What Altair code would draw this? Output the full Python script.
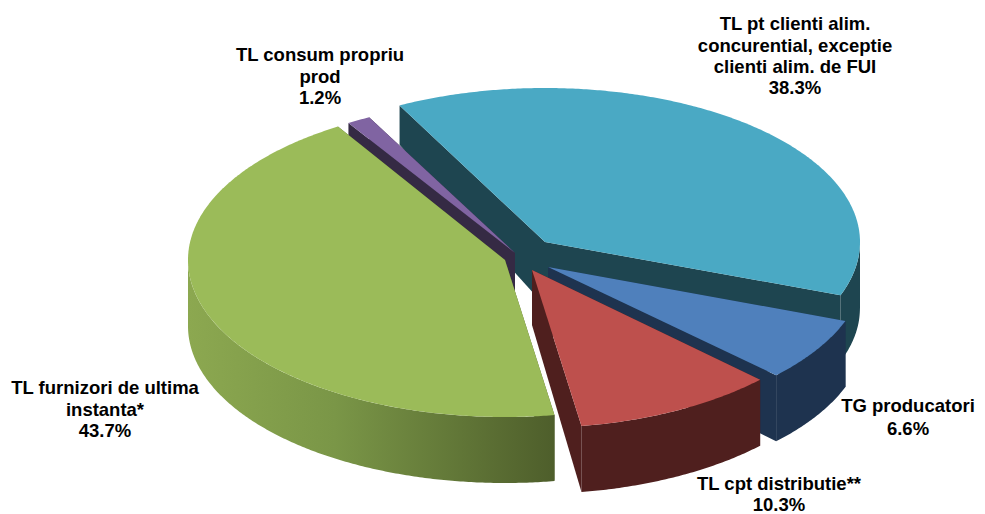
import numpy as np
import pandas as pd
import altair as alt

# --- chart values ---
SLICE_NAMES = ["teal", "blue", "red", "green", "purple"]
SHARES = [38.3, 6.6, 10.3, 43.7, 1.2]
TOP_COLORS = ["#4AA9C4", "#4F80BC", "#BE504D", "#9BBB59", "#8064A2"]
WALL_COLORS = ["#1E4550", "#1E334F", "#4F1F1E", "#4E5E2B", "#352A44"]
APEX_X = [545, 548, 532, 505, 515]
APEX_Y = [242, 267, 270, 260, 253]
RADIUS_X = [315, 317, 317, 317, 316]
RADIUS_Y = [154, 156, 158, 157, 153]
APEX_DEPTH = [64, 60, 55, 64, 60]
DRAW_ORDER = [0, 4, 1, 2, 3]
FIRST_ANGLE = -27.5

LABEL_LINES = [
    "TL pt clienti alim.", "concurential, exceptie", "clienti alim. de FUI", "38.3%",
    "TL consum propriu", "prod", "1.2%",
    "TG producatori", "6.6%",
    "TL cpt distributie**", "10.3%",
    "TL furnizori de ultima", "instanta*", "43.7%",
]
LABEL_X = [795, 795, 795, 795, 320, 320, 320, 908, 908, 779, 779, 105, 105, 105]
LABEL_Y = [24, 46, 67, 88, 55, 77, 98, 406, 429, 484, 505, 388, 410, 431]

XS = alt.Scale(domain=[8, 977], nice=False, zero=False)
YS = alt.Scale(domain=[518, 8], nice=False, zero=False)


def depth_at(y):
    return np.clip(39 + 0.18 * (np.asarray(y, dtype=float) - 103), 39, 66)


def polygon(xs, ys, fill):
    df = pd.DataFrame({"x": xs, "y": ys, "i": np.arange(len(xs))})
    return (
        alt.Chart(df)
        .mark_line(filled=True, fill=fill, strokeWidth=0, interpolate="linear")
        .encode(
            x=alt.X("x:Q", scale=XS, axis=None),
            y=alt.Y("y:Q", scale=YS, axis=None),
            order=alt.Order("i:Q"),
        )
    )


unit = 360.0 / sum(SHARES)
starts = FIRST_ANGLE + np.concatenate([[0], np.cumsum(SHARES)[:-1]]) * unit
ends = starts + np.array(SHARES) * unit

layers = []
for k in DRAW_ORDER:
    cx, cy, rx, ry = APEX_X[k], APEX_Y[k], RADIUS_X[k], RADIUS_Y[k]

    def arc(a, b):
        t = np.radians(np.linspace(a, b, max(2, int(abs(b - a) * 2) + 1)))
        return cx + rx * np.sin(t), cy - ry * np.cos(t)

    # radial walls
    for ang in (starts[k], ends[k]):
        ex, ey = arc(ang, ang)
        ex, ey = ex[0], ey[0]
        d = float(depth_at(ey))
        layers.append(polygon(
            [cx, ex, ex, cx], [cy, ey, ey + d, cy + APEX_DEPTH[k]], WALL_COLORS[k]
        ))

    # outer wall (front half only)
    lo, hi = max(starts[k], 90), min(ends[k], 270)
    if hi > lo:
        ax, ay = arc(lo, hi)
        by = ay + depth_at(ay)
        fill = WALL_COLORS[k]
        if SLICE_NAMES[k] == "green":
            fill = alt.LinearGradient(
                gradient="linear", x1=0, x2=1, y1=0, y2=0,
                stops=[
                    alt.GradientStop(color="#8CA850", offset=0),
                    alt.GradientStop(color="#7A9647", offset=0.4),
                    alt.GradientStop(color="#4E5E2B", offset=1),
                ],
            )
        layers.append(polygon(
            np.concatenate([ax, ax[::-1]]), np.concatenate([ay, by[::-1]]), fill
        ))

    # top face
    tx, ty = arc(starts[k], ends[k])
    layers.append(polygon(
        np.concatenate([[cx], tx]), np.concatenate([[cy], ty]), TOP_COLORS[k]
    ))

labels = (
    alt.Chart(pd.DataFrame({"x": LABEL_X, "y": LABEL_Y, "t": LABEL_LINES}))
    .mark_text(font="Liberation Sans", fontSize=18.5, fontWeight="bold", color="#000000",
               align="center", baseline="middle")
    .encode(
        x=alt.X("x:Q", scale=XS, axis=None),
        y=alt.Y("y:Q", scale=YS, axis=None),
        text="t:N",
    )
)

chart = (
    alt.layer(*layers, labels)
    .properties(width=969, height=510, padding=0,
                autosize=alt.AutoSizeParams(type="none"))
    .configure_view(stroke=None)
)
chart.save("out.html", embed_options={"renderer": "svg", "actions": False})
